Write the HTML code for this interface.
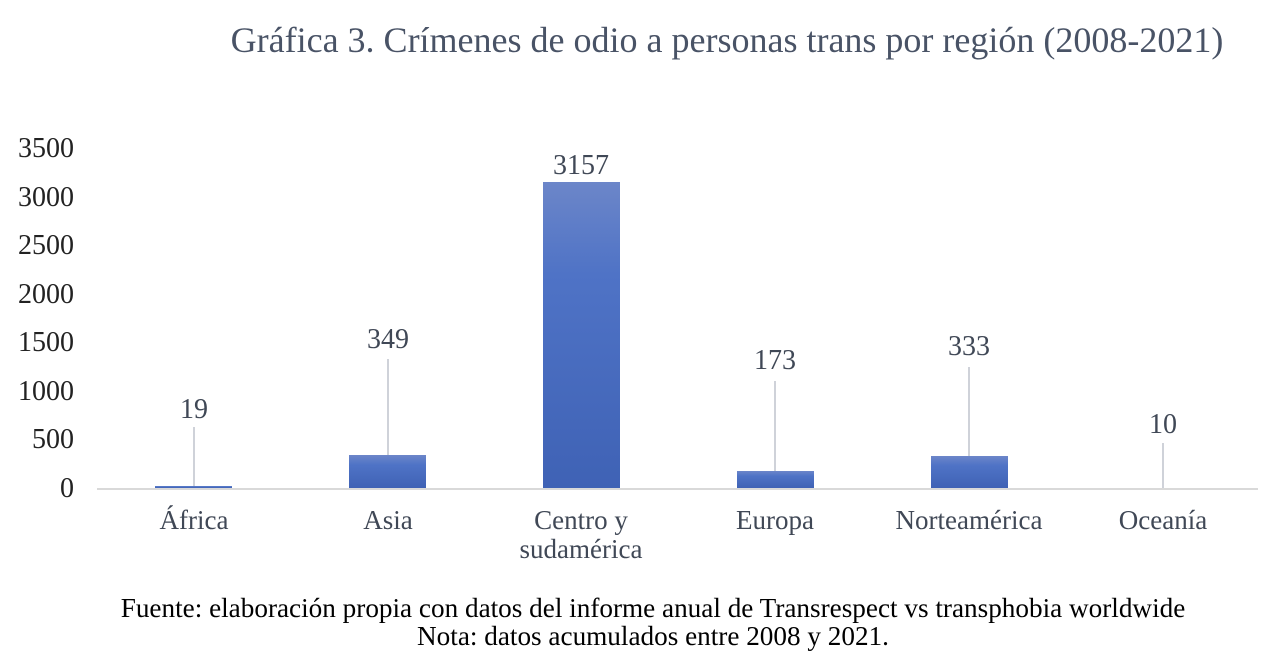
<!DOCTYPE html>
<html><head><meta charset="utf-8"><style>
html,body{margin:0;padding:0;background:#fff;}
svg{display:block;font-family:"Liberation Serif",serif;}
</style></head><body>
<svg width="1278" height="662" viewBox="0 0 1278 662">
<defs>
<linearGradient id="g" x1="0" y1="0" x2="0" y2="1">
<stop offset="0" stop-color="#6c86c9"/><stop offset="0.3" stop-color="#4f73c6"/><stop offset="1" stop-color="#3f62b5"/>
</linearGradient>
</defs>
<text x="727" y="52" font-size="36" fill="#495366" text-anchor="middle">Gráfica 3. Crímenes de odio a personas trans por región (2008-2021)</text>
<g font-size="28" fill="#222" text-anchor="end">
<text x="74" y="497">0</text>
<text x="74" y="448">500</text>
<text x="74" y="400">1000</text>
<text x="74" y="351">1500</text>
<text x="74" y="303">2000</text>
<text x="74" y="254">2500</text>
<text x="74" y="206">3000</text>
<text x="74" y="157">3500</text>
</g>
<line x1="97" y1="489" x2="1258" y2="489" stroke="#d9d9d9" stroke-width="2"/>
<g stroke="#bfc3cc" stroke-width="1.5">
<line x1="194" y1="427" x2="194" y2="487"/>
<line x1="388" y1="359" x2="388" y2="455"/>
<line x1="775" y1="381" x2="775" y2="471"/>
<line x1="969" y1="367" x2="969" y2="456"/>
<line x1="1163" y1="443" x2="1163" y2="488"/>
</g>
<rect x="155" y="486" width="77" height="2" fill="url(#g)"/>
<rect x="349" y="455" width="77" height="33" fill="url(#g)"/>
<rect x="543" y="182" width="77" height="306" fill="url(#g)"/>
<rect x="737" y="471" width="77" height="17" fill="url(#g)"/>
<rect x="931" y="456" width="77" height="32" fill="url(#g)"/>
<g font-size="28" fill="#404856" text-anchor="middle">
<text x="194" y="418">19</text>
<text x="388" y="348">349</text>
<text x="581" y="174">3157</text>
<text x="775" y="369">173</text>
<text x="969" y="355">333</text>
<text x="1163" y="433">10</text>
</g>
<g font-size="27" fill="#404856" text-anchor="middle">
<text x="194" y="529">África</text>
<text x="388" y="529">Asia</text>
<text x="581" y="529">Centro y</text>
<text x="581" y="558">sudamérica</text>
<text x="775" y="529">Europa</text>
<text x="969" y="529">Norteamérica</text>
<text x="1163" y="529">Oceanía</text>
</g>
<g font-size="27.2" fill="#000" text-anchor="middle">
<text x="653" y="617">Fuente: elaboración propia con datos del informe anual de Transrespect vs transphobia worldwide</text>
<text x="653" y="645">Nota: datos acumulados entre 2008 y 2021.</text>
</g>
</svg>
</body></html>
